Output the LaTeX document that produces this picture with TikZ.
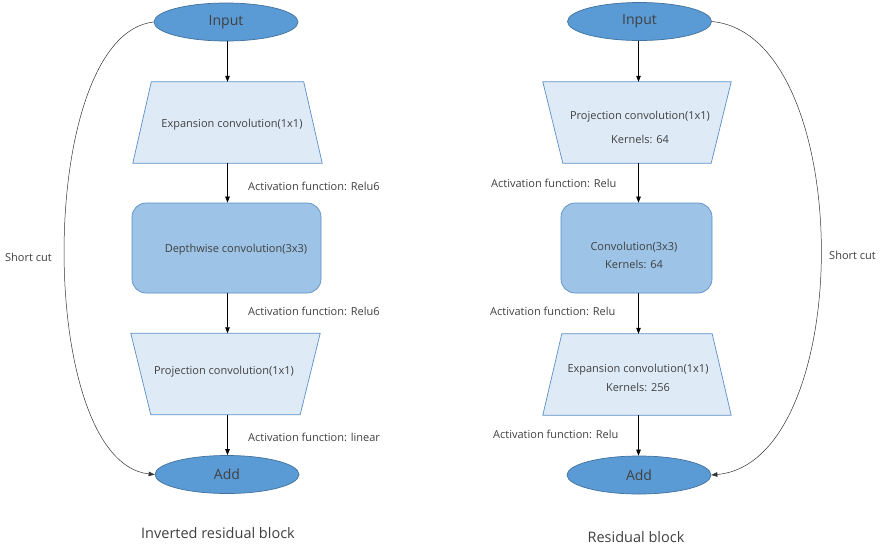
\documentclass[tikz,border=0pt]{standalone}
\usepackage{fontspec}
\setmainfont{Open Sans}
\usetikzlibrary{shapes.geometric,arrows.meta}
\definecolor{ovalfill}{HTML}{5B9BD5}
\definecolor{ovaldraw}{HTML}{41719C}
\definecolor{trapfill}{HTML}{DEEBF7}
\definecolor{boxfill}{HTML}{9DC3E6}
\definecolor{boxdraw}{HTML}{5B8FC7}
\definecolor{txt}{HTML}{404040}
\pgfdeclarelayer{paper}
\pgfdeclarelayer{background}
\pgfsetlayers{paper,background,main}
\tikzset{
  oval/.style={ellipse, fill=ovalfill, draw=ovaldraw, line width=0.7pt,
    minimum width=144pt, minimum height=38pt, inner sep=0pt,
    font=\fontsize{14}{16}\selectfont, text=txt},
  trapbody/.style={rectangle, minimum height=81pt, inner sep=0pt},
  trapline/.style={fill=trapfill, draw=boxdraw, line width=0.7pt, line join=miter},
  rbox/.style={rectangle, rounded corners=14pt, fill=boxfill, draw=boxdraw,
    line width=0.7pt, minimum height=90pt, inner sep=0pt},
  boxtext/.style={inner sep=0pt, align=center, font=\fontsize{11}{18}\selectfont, text=txt},
  lbl/.style={anchor=west, inner sep=0pt, font=\fontsize{11}{13}\selectfont, text=txt},
  title/.style={inner sep=0pt, font=\fontsize{14.5}{16}\selectfont, text=txt},
  flow/.style={-{Triangle[length=6pt,width=4.5pt]}, line width=0.6pt, black},
  bypass/.style={-{Triangle[length=6pt,width=4.5pt]}, line width=0.5pt, black!80}
}
% trapezium outline behind a body node: #1 node, #2 inset of the narrow side, #3 = north or south (narrow side)
\newcommand\trapnarrowtop[2]{%
  \begin{pgfonlayer}{background}
    \path[trapline] ([xshift=#2pt]#1.north west) -- ([xshift=-#2pt]#1.north east)
      -- (#1.south east) -- (#1.south west) -- cycle;
  \end{pgfonlayer}}
\newcommand\trapnarrowbottom[2]{%
  \begin{pgfonlayer}{background}
    \path[trapline] (#1.north west) -- (#1.north east)
      -- ([xshift=-#2pt]#1.south east) -- ([xshift=#2pt]#1.south west) -- cycle;
  \end{pgfonlayer}}
\begin{document}
\begin{tikzpicture}[x=1pt,y=-1pt]
\useasboundingbox (0,0) rectangle (880,546);
\begin{pgfonlayer}{paper}
  \fill[white] (0,0) rectangle (880,546);
\end{pgfonlayer}

% ---- inverted residual block ----
\node[oval] (inL) at (226,22) {Input};
\node[trapbody, minimum width=189pt] (expL) at (227.5,122.5) {};
\trapnarrowtop{expL}{18.5}
\node[boxtext] (expLt) at (232,125) {Expansion convolution(1x1)};
\node[rbox, minimum width=189pt] (dwL) at (226.5,248) {};
\node[boxtext] (dwLt) at (236,250) {Depthwise convolution(3x3)};
\node[trapbody, minimum width=189pt] (projL) at (225.5,374) {};
\trapnarrowbottom{projL}{20}
\node[boxtext] (projLt) at (224,372) {Projection convolution(1x1)};
\node[oval] (addL) at (227,474.5) {Add};

\draw[flow] (inL.south -| expL.north) -- (expL.north);
\draw[flow] (expL.south) -- (dwL.north -| expL.south);
\draw[flow] (dwL.south -| expL.south) -- (projL.north -| expL.south);
\draw[flow] (projL.south -| expL.south) -- (addL.north -| expL.south);

\node[lbl] (aL1) at (248,186) {Activation function: Relu6};
\node[lbl] (aL2) at (248,311) {Activation function: Relu6};
\node[lbl] (aL3) at (248,437) {Activation function: linear};

\draw[bypass] (inL.west) .. controls (35,35) and (35,462) .. (addL.west);
\node[lbl] (scL) at (5,257) {Short cut};

\node[title] (tL) at (218,533) {Inverted residual block};

% ---- residual block ----
\node[oval] (inR) at (639.5,21.5) {Input};
\node[trapbody, minimum width=188pt] (projR) at (637,122.5) {};
\trapnarrowbottom{projR}{20}
\node[boxtext] (projRt) at (640,127) {Projection convolution(1x1)\\[6pt]Kernels: 64};
\node[rbox, minimum width=151pt] (convR) at (636.5,248) {};
\node[boxtext] (convRt) at (634,255) {Convolution(3x3)\\Kernels: 64};
\node[trapbody, minimum width=188pt] (expR) at (637,374.5) {};
\trapnarrowtop{expR}{19}
\node[boxtext] (expRt) at (638,377.5) {Expansion convolution(1x1)\\[1pt]Kernels: 256};
\node[oval] (addR) at (639,475) {Add};

\draw[flow] (inR.south -| 638.5,0) -- (projR.north -| 638.5,0);
\draw[flow] (projR.south -| 638.5,0) -- (convR.north -| 638.5,0);
\draw[flow] (convR.south -| 638.5,0) -- (expR.north -| 638.5,0);
\draw[flow] (expR.south -| 638.5,0) -- (addR.north -| 638.5,0);

\node[lbl] (aR1) at (491,183) {Activation function: Relu};
\node[lbl] (aR2) at (490,311) {Activation function: Relu};
\node[lbl] (aR3) at (493,434) {Activation function: Relu};

\draw[bypass] (inR.east) .. controls (857,35) and (857,462) .. (addR.east);
\node[lbl] (scR) at (829,255) {Short cut};

\node[title] (tR) at (636,537) {Residual block};
\end{tikzpicture}
\end{document}
